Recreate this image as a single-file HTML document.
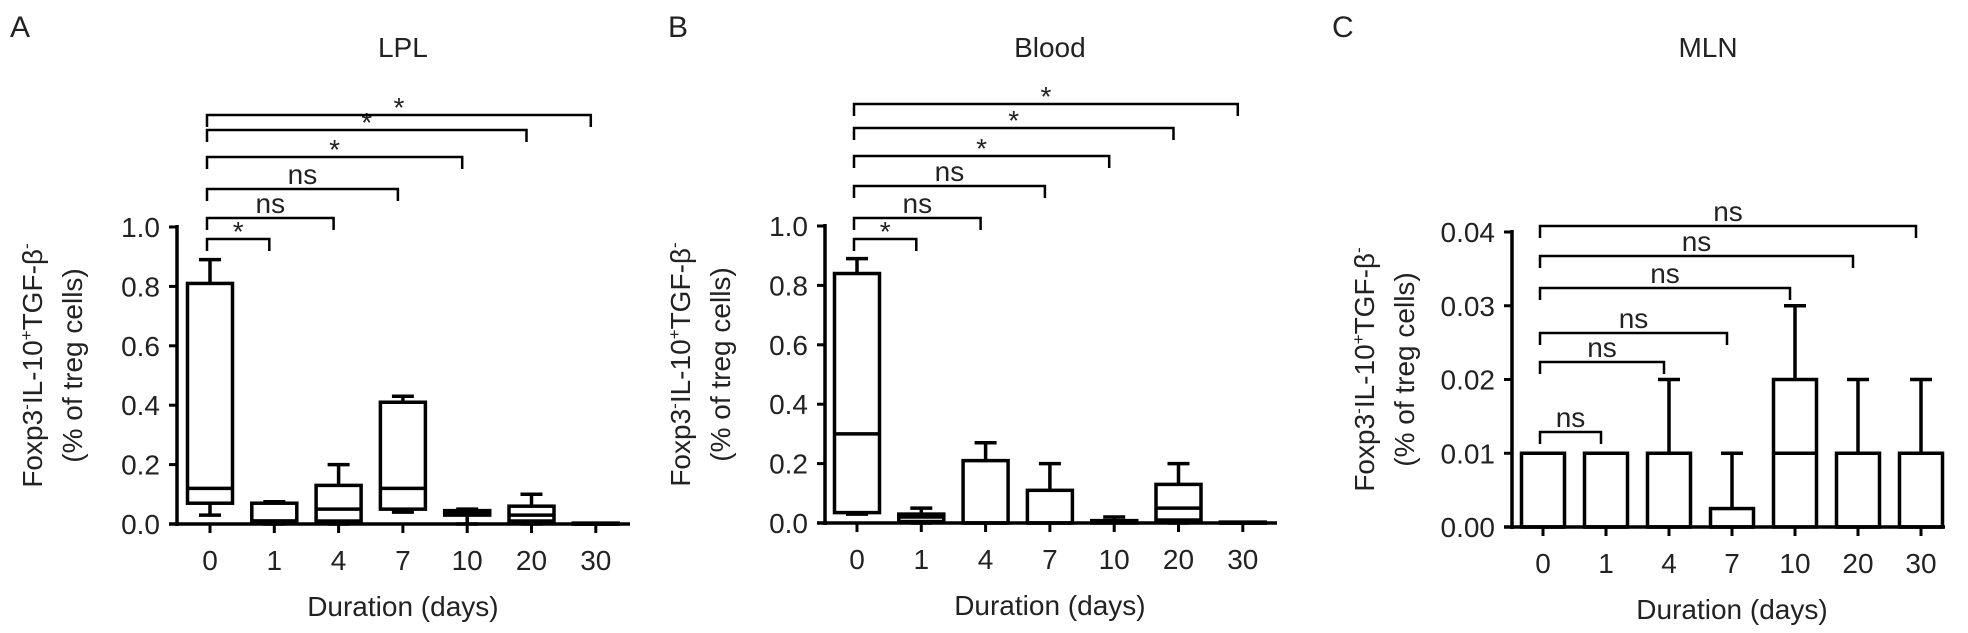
<!DOCTYPE html>
<html><head><meta charset="utf-8"><style>
html,body{margin:0;padding:0;background:#fff;}
svg{display:block;font-family:"Liberation Sans",Arial,sans-serif;}
</style></head><body>
<svg id="fig" width="1968" height="633" viewBox="0 0 1968 633" xmlns="http://www.w3.org/2000/svg"></svg>
<script>
const categories = ["0","1","4","7","10","20","30"];
// Panel A (LPL)
const aLo  = [0.03, 0, 0, 0.04, 0, 0, 0];
const aQ1  = [0.07, 0.01, 0.01, 0.05, 0.03, 0.01, 0];
const aMed = [0.12, 0.01, 0.05, 0.12, 0.04, 0.03, 0];
const aQ3  = [0.81, 0.07, 0.13, 0.41, 0.045, 0.06, 0.003];
const aHi  = [0.89, 0.075, 0.2, 0.43, 0.05, 0.1, 0.003];
const aSig = ["*","ns","ns","*","*","*"];
// Panel B (Blood)
const bLo  = [0.03, 0, 0, 0, 0, 0, 0];
const bQ1  = [0.035, 0.005, 0, 0, 0, 0.01, 0];
const bMed = [0.3, 0.02, 0, 0, 0.005, 0.05, 0];
const bQ3  = [0.84, 0.03, 0.21, 0.11, 0.008, 0.13, 0.003];
const bHi  = [0.89, 0.05, 0.27, 0.2, 0.02, 0.2, 0.003];
const bSig = ["*","ns","ns","*","*","*"];
// Panel C (MLN)
const cLo  = [0, 0, 0, 0, 0, 0, 0];
const cQ1  = [0, 0, 0, 0, 0, 0, 0];
const cMed = [0, 0, 0, 0, 0.01, 0, 0];
const cQ3  = [0.01, 0.01, 0.01, 0.0025, 0.02, 0.01, 0.01];
const cHi  = [0.01, 0.01, 0.02, 0.01, 0.03, 0.02, 0.02];
const cSig = ["ns","ns","ns","ns","ns","ns"];
const aTicks = ["0.0","0.2","0.4","0.6","0.8","1.0"];
const cTicks = ["0.00","0.01","0.02","0.03","0.04"];

const NS="http://www.w3.org/2000/svg";
const svg=document.getElementById('fig');
function mk(tag,attrs,parent){const e=document.createElementNS(NS,tag);for(const k in attrs)e.setAttribute(k,attrs[k]);(parent||svg).appendChild(e);return e;}

const panels=[
 {key:'a',letter:'A',lx:10,title:'LPL',axisX:177,x0:210,dx:64.3,yTop:227,yBot:524,max:1.0,ticks:aTicks,tickVals:[0,0.2,0.4,0.6,0.8,1.0],
  lo:aLo,q1:aQ1,med:aMed,q3:aQ3,hi:aHi,sig:aSig,levels:[239,218,189,157,130,115],titleX:30,titleX2:70,baseEnd:630},
 {key:'b',letter:'B',lx:668,title:'Blood',axisX:825,x0:857,dx:64.3,yTop:226,yBot:523,max:1.0,ticks:aTicks,tickVals:[0,0.2,0.4,0.6,0.8,1.0],
  lo:bLo,q1:bQ1,med:bMed,q3:bQ3,hi:bHi,sig:bSig,levels:[239,218,186,156,128,104],titleX:678,titleX2:718,baseEnd:1277},
 {key:'c',letter:'C',lx:1332,title:'MLN',axisX:1512,x0:1543,dx:63,yTop:232,yBot:527,max:0.04,ticks:cTicks,tickVals:[0,0.01,0.02,0.03,0.04],
  lo:cLo,q1:cQ1,med:cMed,q3:cQ3,hi:cHi,sig:cSig,levels:[432,362,333,288,256,226],titleX:1362,titleX2:1402,baseEnd:1945}
];

panels.forEach(p=>{
  const g=mk('g',{});
  
  
  const y=v=>p.yBot-(v/p.max)*(p.yBot-p.yTop);
  const x=i=>p.x0+i*p.dx;
  const L=mk('text',{x:p.lx,y:37,'font-size':30,fill:'#222'},g);L.textContent=p.letter;
  
  
  const cx=(x(0)+x(6))/2;
  const T=mk('text',{x:p.key==='c'?1708:cx,y:57,'font-size':28,'text-anchor':'middle',fill:'#222'},g);T.textContent=p.title;
  
  
  // y axis
  const ya=mk('line',{x1:p.axisX,y1:p.yTop-2,x2:p.axisX,y2:p.yBot+2,stroke:'#000','stroke-width':3.5},g);
  
  
  p.tickVals.forEach((v,i)=>{
    mk('line',{x1:p.axisX-8,y1:y(v),x2:p.axisX,y2:y(v),stroke:'#000','stroke-width':3},g);
    const t=mk('text',{x:p.axisX-17,y:y(v)+10,'font-size':28,'text-anchor':'end',fill:'#222'},g);t.textContent=p.ticks[i];
    
    
  });
  // x axis
  const xa=mk('line',{x1:p.axisX-8,y1:p.yBot,x2:p.baseEnd,y2:p.yBot,stroke:'#000','stroke-width':3.5},g);
  
  
  categories.forEach((c,i)=>{
    mk('line',{x1:x(i),y1:p.yBot,x2:x(i),y2:p.yBot+9,stroke:'#000','stroke-width':3},g);
    const t=mk('text',{x:x(i),y:p.yBot+46,'font-size':28,'text-anchor':'middle',fill:'#222'},g);t.textContent=c;
    
    
  });
  const xt=mk('text',{x:cx,y:p.yBot+92,'font-size':28,'text-anchor':'middle',fill:'#222'},g);xt.textContent='Duration (days)';
  
  
  // y title
  const ymid=(p.yTop+p.yBot)/2;
  const yt=mk('text',{transform:`translate(${p.titleX+12},${ymid-10}) rotate(-90)`,'font-size':28,'text-anchor':'middle',fill:'#222'},g);
  yt.innerHTML='Foxp3<tspan dy="-10" font-size="17">-</tspan><tspan dy="10">IL-10</tspan><tspan dy="-10" font-size="17">+</tspan><tspan dy="10">TGF-β</tspan><tspan dy="-10" font-size="17">-</tspan>';
  
  
  const yt2=mk('text',{transform:`translate(${p.titleX2+12},${ymid-10}) rotate(-90)`,'font-size':28,'text-anchor':'middle',fill:'#222'},g);
  yt2.textContent='(% of treg cells)';
  
  
  // boxes
  const bw=p.key==='c'?43:45;
  categories.forEach((c,i)=>{
    const bg=mk('g',{fill:'none',stroke:'#000','stroke-width':3.5},g);
    
    
    const xc=x(i);
    if(p.hi[i]>p.q3[i]){
      mk('line',{x1:xc,y1:y(p.q3[i]),x2:xc,y2:y(p.hi[i])},bg);
      mk('line',{x1:xc-11,y1:y(p.hi[i]),x2:xc+11,y2:y(p.hi[i])},bg);
    }
    if(p.lo[i]<p.q1[i]){
      mk('line',{x1:xc,y1:y(p.q1[i]),x2:xc,y2:y(p.lo[i])},bg);
      mk('line',{x1:xc-11,y1:y(p.lo[i]),x2:xc+11,y2:y(p.lo[i])},bg);
    }
    mk('rect',{x:xc-bw/2,y:y(p.q3[i]),width:bw,height:Math.max(1,y(p.q1[i])-y(p.q3[i]))},bg);
    mk('line',{x1:xc-bw/2,y1:y(p.med[i]),x2:xc+bw/2,y2:y(p.med[i])},bg);
  });
  // brackets
  p.sig.forEach((s,k)=>{
    const bg=mk('g',{},g);
    
    
    const lv=p.levels[k], x1=x(0)-3, x2=x(k+1)-5;
    mk('polyline',{points:`${x1},${lv+12} ${x1},${lv} ${x2},${lv} ${x2},${lv+12}`,fill:'none',stroke:'#000','stroke-width':2.5},bg);
    const t=mk('text',{x:(x1+x2)/2,y:s==='*'?lv+2:lv-5,'font-size':s==='*'?28:28,'text-anchor':'middle',fill:'#222'},bg);
    t.textContent=s;
  });
});
</script>
</body></html>
